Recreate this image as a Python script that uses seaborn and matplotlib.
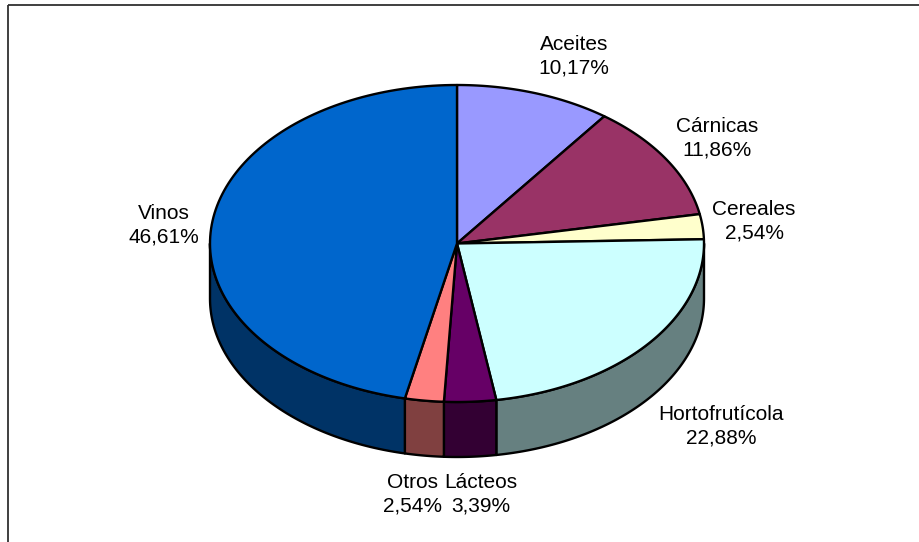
import numpy as np
import matplotlib
matplotlib.use('Agg')
import matplotlib.pyplot as plt
from matplotlib.patches import Polygon, Rectangle
import seaborn as sns

# data (share of each sector, %)
sectores = ['Aceites', 'Cárnicas', 'Cereales', 'Hortofrutícola', 'Lácteos', 'Otros', 'Vinos']
porcentajes = [10.17, 11.86, 2.54, 22.88, 3.39, 2.54, 46.61]
colores = ['#9999FF', '#993366', '#FFFFCC', '#CCFFFF', '#660066', '#FF8080', '#0066CC']

# label positions (pixel coords of the reference)
label_xy = [(574, 56), (717, 138), (754, 221), (721, 426), (481, 494), (413, 494), (164, 225)]

sns.set_theme(style='white')
plt.rcParams['font.family'] = ['Liberation Sans', 'DejaVu Sans']

W, H = 919, 542
fig = plt.figure(figsize=(W / 100, H / 100), dpi=100)
ax = fig.add_axes([0, 0, 1, 1])
ax.set_xlim(0, W)
ax.set_ylim(H, 0)
ax.axis('off')

# 3d pie geometry
cx, cy = 457, 243.5
rx, ry = 247, 158.5
depth = 55
lw = 1.7


def arc(t_a, t_b, dy=0, n=120):
    t = np.radians(np.linspace(t_a, t_b, n))
    return np.column_stack([cx + rx * np.cos(t), cy - ry * np.sin(t) + dy])


def darker(c, f=0.5):
    r, g, b = matplotlib.colors.to_rgb(c)
    return (r * f, g * f, b * f)


vals = np.array(porcentajes) / sum(porcentajes)
ends = np.cumsum(vals)
starts = ends - vals

# side walls (front half only)
for s, e, col in zip(starts, ends, colores):
    t0 = 90 - 360 * s
    t1 = 90 - 360 * e
    a = min(t0, 0)
    b = max(t1, -180)
    if a <= b:
        continue
    top = arc(a, b)
    bot = arc(b, a, dy=depth)
    ax.add_patch(Polygon(np.vstack([top, bot]), closed=True, facecolor=darker(col),
                         edgecolor='black', linewidth=lw, joinstyle='round'))

# top faces
for s, e, col in zip(starts, ends, colores):
    t0 = 90 - 360 * s
    t1 = 90 - 360 * e
    pts = np.vstack([[cx, cy], arc(t0, t1)])
    ax.add_patch(Polygon(pts, closed=True, facecolor=col, edgecolor='black',
                         linewidth=lw, joinstyle='round'))

# labels
for name, p, (x, y) in zip(sectores, porcentajes, label_xy):
    txt = '%s\n%s%%' % (name, ('%.2f' % p).replace('.', ','))
    ax.text(x, y, txt, ha='center', va='center', fontsize=15, linespacing=1.3,
            color='black')

# chart frame (partly cut off in the reference)
ax.add_patch(Rectangle((8, 5), 1000, 1000, fill=False, edgecolor='#303030', linewidth=1.3))

fig.savefig('out.png', dpi=100)
